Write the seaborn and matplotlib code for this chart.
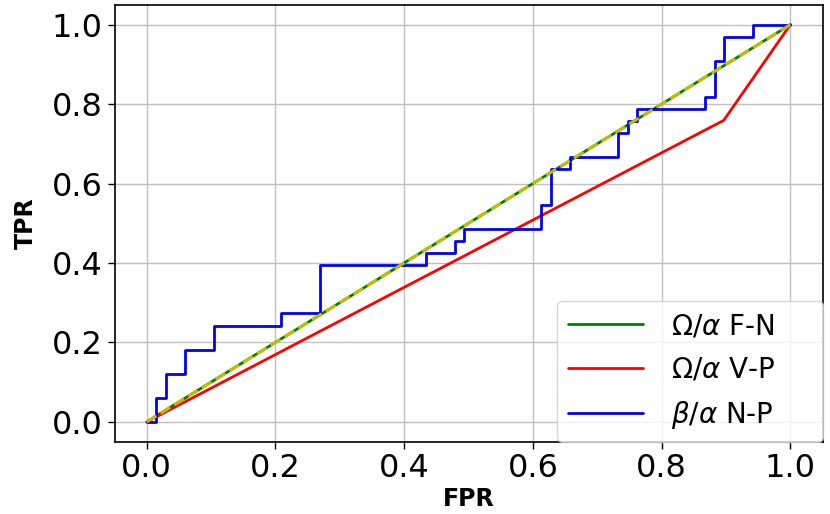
import matplotlib
matplotlib.use("Agg")
import matplotlib.pyplot as plt
import seaborn as sns
import pandas as pd

# curvas ROC
fpr_fn = [0.0, 1.0]
tpr_fn = [0.0, 1.0]

fpr_vp = [0.0, 0.8965, 1.0]
tpr_vp = [0.0, 0.759, 1.0]

fpr_np = [0.0, 0.0147, 0.0295, 0.059, 0.104, 0.209, 0.269, 0.4335, 0.4786,
          0.4925, 0.6133, 0.6277, 0.6583, 0.7318, 0.747, 0.762, 0.867,
          0.8825, 0.8966, 0.942, 1.0]
tpr_np = [0.0, 0.061, 0.121, 0.182, 0.242, 0.273, 0.394, 0.424, 0.455,
          0.485, 0.545, 0.636, 0.667, 0.727, 0.758, 0.788, 0.818,
          0.909, 0.970, 1.0, 1.0]

rotulos = [r'$\Omega/\alpha$ F-N', r'$\Omega/\alpha$ V-P', r'$\beta/\alpha$ N-P']
ticks = [0.0, 0.2, 0.4, 0.6, 0.8, 1.0]

sns.set_style('ticks', rc={'axes.edgecolor': 'black', 'text.color': 'black',
                           'axes.labelcolor': 'black', 'xtick.color': 'black',
                           'ytick.color': 'black'})
plt.rcParams['font.family'] = ['DejaVu Sans']

fig = plt.figure(figsize=(8.3, 5.14), dpi=100)
ax = fig.add_axes([0.138, 0.1407, 0.853, 0.850])

df_fn = pd.DataFrame({'fpr': fpr_fn, 'tpr': tpr_fn})
df_vp = pd.DataFrame({'fpr': fpr_vp, 'tpr': tpr_vp})
df_np = pd.DataFrame({'fpr': fpr_np, 'tpr': tpr_np})

sns.lineplot(data=df_fn, x='fpr', y='tpr', color='green', linewidth=2,
             estimator=None, sort=False, ax=ax)
sns.lineplot(data=df_vp, x='fpr', y='tpr', color='red', linewidth=2,
             estimator=None, sort=False, ax=ax)
sns.lineplot(data=df_np, x='fpr', y='tpr', color='blue', linewidth=2,
             estimator=None, sort=False, drawstyle='steps-post', ax=ax)
# diagonal de referencia (amarela tracejada por cima da verde)
ax.plot(fpr_fn, tpr_fn, color='y', linestyle='--', linewidth=2.2)

linhas = ax.get_lines()
handles = linhas[:3]

ax.set_xlim(-0.05, 1.05)
ax.set_ylim(-0.05, 1.05)
ax.set_xticks(ticks)
ax.set_yticks(ticks)
ax.grid(True, color='#c0c0c0', linewidth=1)
ax.tick_params(labelsize=23, length=5, width=1)
for s in ax.spines.values():
    s.set_linewidth(1.2)

ax.set_xlabel('FPR', fontsize=17, fontweight='bold', labelpad=2)
ax.set_ylabel('TPR', fontsize=17, fontweight='bold', labelpad=10)

ax.legend(handles, rotulos, loc='lower left', bbox_to_anchor=(0.625, 0, 0.375, 0.3),
          mode='expand', fontsize=20, borderaxespad=0,
          handlelength=2.7, handletextpad=1.0, labelspacing=0.55)

plt.savefig('out.png', dpi=100)
